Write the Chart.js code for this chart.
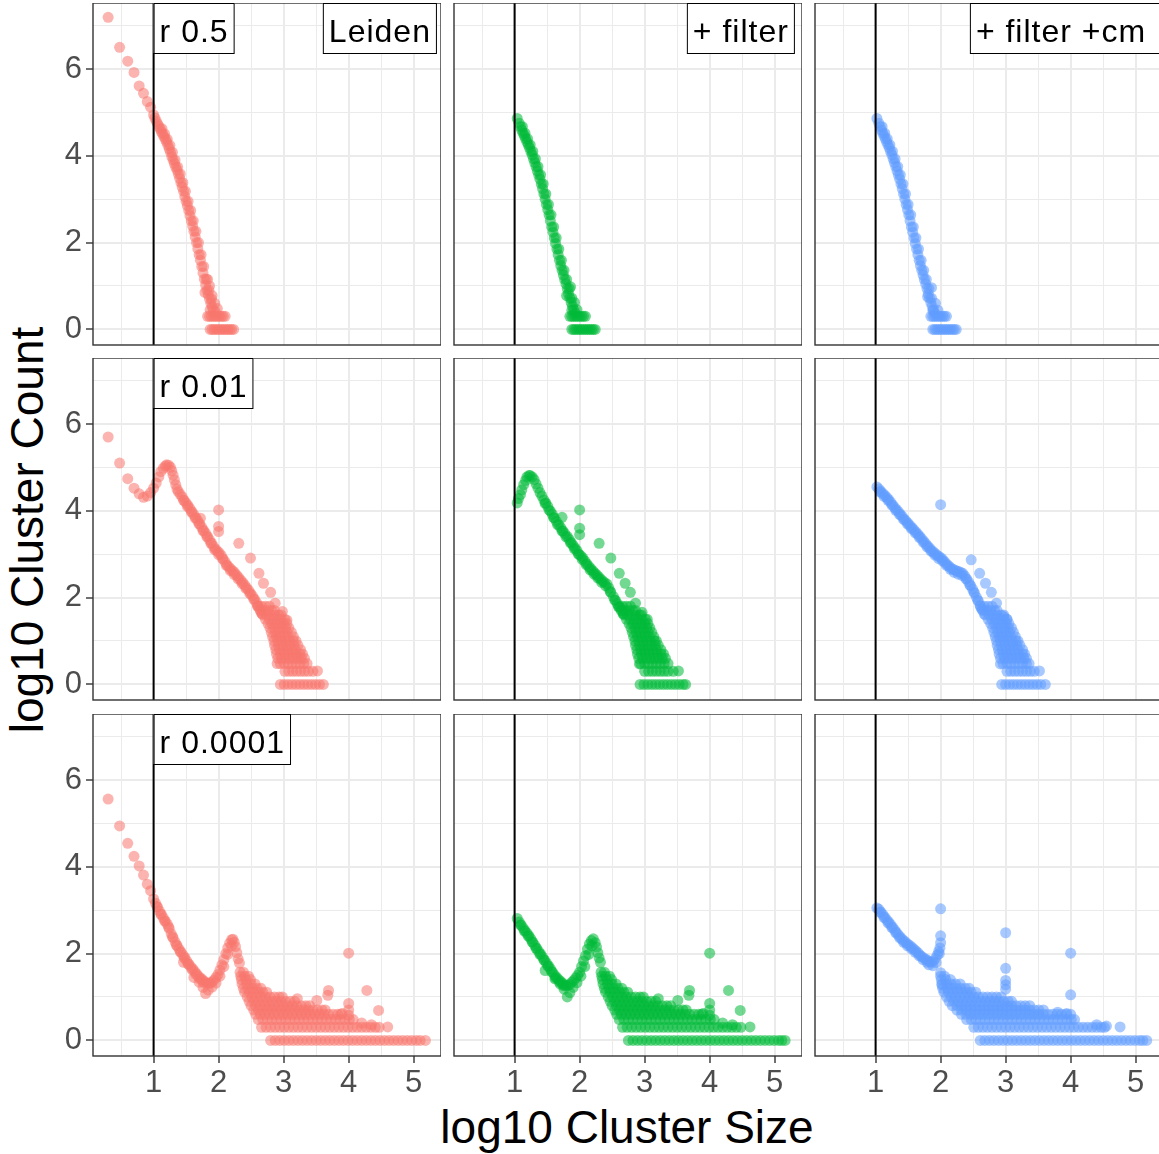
<!DOCTYPE html>
<html>
<head>
<meta charset="utf-8">
<script src="https://cdn.jsdelivr.net/npm/chart.js@4.4.0/dist/chart.umd.min.js"></script>
<style>
  html, body { margin: 0; padding: 0; background: #fff; overflow: hidden; }
  body { width: 1159px; height: 1154px; position: relative; font-family: 'Liberation Sans', Arial, sans-serif; }
  canvas { position: absolute; }
  .axis-title { position: absolute; font-size: 46px; line-height: 46px; color: #000; white-space: nowrap; }
  #xtitle { left: 627px; top: 1104px; transform: translateX(-50%); }
  #ytitle { left: 27px; top: 530px; transform: translate(-50%, -50%) rotate(-90deg); }
</style>
</head>
<body>
<div class="axis-title" id="xtitle">log10 Cluster Size</div>
<div class="axis-title" id="ytitle">log10 Cluster Count</div>
<script>
// facets
const columnNames = ['Leiden', '+ filter', '+ filter +cm'];
const rowNames = ['r 0.5', 'r 0.01', 'r 0.0001'];
const seriesColors = ['#F8766D', '#00BA38', '#619CFF'];

const xTicks = [0.5, 1, 1.5, 2, 2.5, 3, 3.5, 4, 4.5, 5];
const xMajor = [1, 2, 3, 4, 5];
const yTicks = [0, 1, 2, 3, 4, 5, 6, 7];
const yMajor = [0, 2, 4, 6];
const xRange = [0.068, 5.42];
const yRange = [-0.36, 7.52];
const refLineX = 1;

// each panel: [x, y] points along the curve + rows of points [y, [x, ...]]

// ---- r 0.5 ----
const leidenR05Pts = [
  [0.301,7.19],[0.477,6.50],[0.602,6.18],[0.699,5.92],[0.778,5.61],[0.845,5.44],[0.903,5.25],[0.954,5.12],
  [1.00,4.94],[1.02,4.87],[1.04,4.80],[1.06,4.74],[1.08,4.68],[1.10,4.62],[1.12,4.55],[1.14,4.50],[1.16,4.44],
  [1.18,4.38],[1.20,4.32],[1.22,4.24],[1.24,4.16],[1.26,4.08],[1.28,3.98],[1.30,3.90],[1.32,3.82],[1.34,3.74],
  [1.36,3.67],[1.38,3.58],[1.40,3.48],[1.42,3.38],[1.44,3.28],[1.46,3.18],[1.48,3.06],[1.50,2.95],[1.52,2.85],
  [1.54,2.74],[1.56,2.62],[1.58,2.50],[1.60,2.38],[1.62,2.26],[1.64,2.13],[1.66,2.00],[1.68,1.86],[1.70,1.72],
  [1.72,1.59],[1.74,1.45],[1.76,1.30],[1.78,1.16],[1.80,1.02],[1.82,0.90],[1.84,0.80],[1.86,0.70],[1.88,0.60],
  [1.90,0.52],[1.92,0.45],[1.95,0.40],
  [1.13,4.62],[1.17,4.50],[1.21,4.38],[1.25,4.24],[1.29,4.08],[1.33,3.90],[1.37,3.74],[1.41,3.58],[1.45,3.38],
  [1.49,3.18],[1.53,2.95],[1.57,2.74],[1.61,2.50],[1.65,2.26],[1.69,2.00],[1.73,1.72],[1.77,1.45],[1.81,1.16],
  [1.85,0.90],[1.89,0.70],
  [1.79,0.85],[1.86,1.00],[1.83,1.15],[1.90,0.78],[1.94,0.60],[1.87,0.45],[1.98,0.48]
];
const leidenR05Rows = [
  [0.30, [1.83,1.86,1.89,1.92,1.95,1.98,2.01,2.04,2.07,2.10]],
  [0, [1.87,1.90,1.93,1.96,1.99,2.02,2.05,2.08,2.11,2.14,2.17,2.20,2.23]]
];
const filterR05Pts = [
  [1.04,4.86],[1.07,4.75],[1.09,4.67],[1.11,4.59],[1.13,4.52],[1.15,4.46],[1.17,4.39],[1.19,4.32],[1.21,4.25],
  [1.23,4.18],[1.25,4.10],[1.27,4.02],[1.29,3.93],[1.31,3.84],[1.33,3.75],[1.35,3.65],[1.37,3.56],[1.39,3.46],
  [1.41,3.35],[1.43,3.24],[1.45,3.12],[1.47,3.00],[1.49,2.88],[1.51,2.76],[1.53,2.64],[1.55,2.50],[1.57,2.36],
  [1.59,2.24],[1.61,2.11],[1.63,1.98],[1.65,1.85],[1.67,1.72],[1.69,1.59],[1.71,1.47],[1.73,1.36],[1.75,1.25],
  [1.77,1.15],[1.79,1.05],[1.81,0.94],[1.83,0.82],[1.85,0.72],[1.87,0.62],[1.89,0.53],[1.91,0.45],[1.93,0.38],
  [1.12,4.67],[1.16,4.52],[1.20,4.39],[1.24,4.25],[1.28,4.10],[1.32,3.93],[1.36,3.75],[1.40,3.56],[1.44,3.35],
  [1.48,3.12],[1.52,2.88],[1.56,2.64],[1.60,2.36],[1.64,2.11],[1.68,1.85],[1.72,1.59],[1.76,1.36],[1.80,1.15],
  [1.84,0.94],[1.88,0.72],
  [1.80,0.78],[1.86,0.98],[1.92,0.62],[1.96,0.45],[1.88,0.44]
];
const filterR05Rows = [
  [0.30, [1.85,1.88,1.91,1.94,1.97,2.00,2.03,2.06,2.09]],
  [0, [1.88,1.91,1.94,1.97,2.00,2.03,2.06,2.09,2.12,2.15,2.18,2.21,2.24]]
];
const cmR05Pts = [
  [1.02,4.86],[1.05,4.75],[1.07,4.67],[1.09,4.59],[1.11,4.52],[1.13,4.46],[1.15,4.39],[1.17,4.32],[1.19,4.25],
  [1.21,4.18],[1.23,4.10],[1.25,4.02],[1.27,3.93],[1.29,3.84],[1.31,3.75],[1.33,3.65],[1.35,3.56],[1.37,3.46],
  [1.39,3.35],[1.41,3.24],[1.43,3.12],[1.45,3.00],[1.47,2.88],[1.49,2.76],[1.51,2.64],[1.53,2.50],[1.55,2.36],
  [1.57,2.24],[1.59,2.11],[1.61,1.98],[1.63,1.85],[1.65,1.72],[1.67,1.59],[1.69,1.47],[1.71,1.36],[1.73,1.25],
  [1.75,1.15],[1.77,1.05],[1.79,0.94],[1.81,0.82],[1.83,0.72],[1.85,0.62],[1.87,0.53],[1.89,0.45],[1.91,0.38],
  [1.10,4.67],[1.14,4.52],[1.18,4.39],[1.22,4.25],[1.26,4.10],[1.30,3.93],[1.34,3.75],[1.38,3.56],[1.42,3.35],
  [1.46,3.12],[1.50,2.88],[1.54,2.64],[1.58,2.36],[1.62,2.11],[1.66,1.85],[1.70,1.59],[1.74,1.36],[1.78,1.15],
  [1.82,0.94],[1.86,0.72],
  [1.80,0.75],[1.86,0.96],[1.92,0.60],[1.96,0.44],[1.88,0.44]
];
const cmR05Rows = [
  [0.30, [1.85,1.88,1.91,1.94,1.97,2.00,2.03,2.06,2.09]],
  [0, [1.88,1.91,1.94,1.97,2.00,2.03,2.06,2.09,2.12,2.15,2.18,2.21,2.24]]
];

// ---- r 0.01 ----
const leidenR001Pts = [
  [0.301,5.70],[0.477,5.10],[0.602,4.74],[0.699,4.52],[0.778,4.39],[0.845,4.31],[0.903,4.34],[0.954,4.42],
  [1.00,4.52],[1.04,4.64],[1.08,4.78],[1.11,4.90],[1.15,4.98],[1.18,5.03],[1.20,5.06],[1.23,5.05],[1.26,5.00],
  [1.28,4.92],[1.30,4.82],[1.32,4.71],[1.34,4.60],[1.36,4.50],[1.38,4.44],[1.41,4.38],[1.44,4.32],[1.47,4.24],
  [1.50,4.18],[1.53,4.12],[1.56,4.05],[1.59,3.98],[1.62,3.91],[1.65,3.84],[1.68,3.77],[1.71,3.70],[1.74,3.62],
  [1.77,3.55],[1.80,3.48],[1.83,3.41],[1.86,3.33],[1.89,3.26],[1.92,3.18],[1.95,3.12],[1.98,3.07],[2.01,3.03],
  [2.04,2.97],[2.07,2.89],[2.10,2.82],[2.13,2.75],[2.16,2.70],[2.19,2.65],[2.22,2.61],[2.25,2.57],[2.28,2.51],
  [2.31,2.46],[2.34,2.40],[2.37,2.35],[2.40,2.29],[2.43,2.23],[2.46,2.17],[2.49,2.10],[2.52,2.04],[2.55,1.97],
  [2.58,1.89],[2.61,1.81],[2.64,1.72],[2.67,1.63],
  [1.46,4.24],[1.52,4.10],[1.58,3.97],[1.64,3.83],[1.70,3.69],[1.76,3.54],[1.82,3.40],[1.88,3.25],[1.94,3.10],
  [2.00,2.99],[2.06,2.89],[2.12,2.74],[2.18,2.62],[2.24,2.53],[2.30,2.43],[2.36,2.32],[2.42,2.21],[2.48,2.09],
  [2.54,1.96],[2.60,1.81],[2.66,1.64],
  [1.72,3.83],[2.00,4.02],[2.00,3.64],[2.00,3.52],[2.31,3.25],[2.49,2.91],[2.62,2.56],[2.69,2.33],[2.80,2.12],
  [2.87,1.87],[2.98,1.68],[3.05,1.48],[2.90,0.48],[3.52,0.31]
];
const leidenR001Rows = [
  [1.80, [2.60,2.66,2.72,2.78]],
  [1.70, [2.64,2.70,2.76,2.82,2.86]],
  [1.60, [2.68,2.74,2.80,2.86,2.92,2.96]],
  [1.50, [2.72,2.78,2.84,2.90,2.96,3.02]],
  [1.40, [2.76,2.82,2.88,2.94,3.00,3.05]],
  [1.30, [2.79,2.85,2.91,2.97,3.03,3.08]],
  [1.20, [2.81,2.87,2.93,2.99,3.05,3.12]],
  [1.10, [2.83,2.89,2.95,3.01,3.07,3.15]],
  [1.00, [2.85,2.91,2.97,3.03,3.09,3.15,3.19]],
  [0.90, [2.86,2.92,2.98,3.04,3.10,3.16,3.22]],
  [0.80, [2.88,2.94,3.00,3.06,3.12,3.18,3.26]],
  [0.70, [2.89,2.95,3.01,3.07,3.13,3.19,3.25,3.29]],
  [0.60, [2.91,2.97,3.03,3.09,3.15,3.21,3.27,3.32]],
  [0.48, [2.95,3.01,3.07,3.13,3.19,3.25,3.31,3.36]],
  [0.30, [3.02,3.08,3.14,3.20,3.26,3.32,3.38,3.45]],
  [0, [2.95,3.01,3.07,3.13,3.19,3.25,3.31,3.37,3.43,3.49,3.55,3.61]]
];
const filterR001Pts = [
  [1.04,4.18],[1.06,4.28],[1.09,4.37],[1.11,4.48],[1.14,4.60],[1.17,4.70],[1.19,4.78],[1.22,4.81],[1.24,4.81],
  [1.27,4.78],[1.30,4.72],[1.33,4.62],[1.36,4.52],[1.39,4.42],[1.42,4.34],[1.45,4.25],[1.48,4.18],[1.51,4.10],
  [1.55,3.99],[1.58,3.92],[1.61,3.84],[1.64,3.76],[1.68,3.68],[1.71,3.61],[1.74,3.54],[1.77,3.48],[1.81,3.41],
  [1.84,3.34],[1.87,3.27],[1.90,3.20],[1.93,3.14],[1.96,3.08],[1.99,3.00],[2.02,2.96],[2.05,2.91],[2.08,2.84],
  [2.11,2.78],[2.14,2.72],[2.17,2.67],[2.20,2.62],[2.23,2.57],[2.26,2.53],[2.29,2.48],[2.32,2.43],[2.35,2.39],
  [2.38,2.35],[2.42,2.31],[2.45,2.22],[2.48,2.12],[2.52,2.02],[2.55,1.94],[2.58,1.86],[2.62,1.78],[2.65,1.71],
  [2.68,1.63],
  [1.47,4.17],[1.53,4.02],[1.60,3.84],[1.66,3.68],[1.73,3.53],[1.79,3.40],[1.86,3.26],[1.92,3.12],[1.98,3.00],
  [2.04,2.88],[2.10,2.76],[2.16,2.64],[2.22,2.54],[2.28,2.45],[2.34,2.35],[2.40,2.27],[2.47,2.14],[2.54,1.94],
  [2.60,1.78],[2.67,1.63],
  [1.73,3.85],[2.00,4.02],[2.00,3.60],[2.00,3.45],[2.30,3.25],[2.48,2.91],[2.61,2.56],[2.70,2.33],[2.78,2.12],
  [2.86,1.87],[2.96,1.66],[3.04,1.50],[2.92,0.47],[3.52,0.31]
];
const filterR001Rows = [
  [1.80, [2.60,2.66,2.72,2.78]],
  [1.70, [2.64,2.70,2.76,2.82,2.86]],
  [1.60, [2.68,2.74,2.80,2.86,2.92,2.95]],
  [1.50, [2.72,2.78,2.84,2.90,2.96,3.01]],
  [1.40, [2.76,2.82,2.88,2.94,3.00,3.05]],
  [1.30, [2.79,2.85,2.91,2.97,3.03,3.08]],
  [1.20, [2.81,2.87,2.93,2.99,3.05,3.11]],
  [1.10, [2.83,2.89,2.95,3.01,3.07,3.14]],
  [1.00, [2.85,2.91,2.97,3.03,3.09,3.15,3.18]],
  [0.90, [2.86,2.92,2.98,3.04,3.10,3.16,3.21]],
  [0.80, [2.88,2.94,3.00,3.06,3.12,3.18,3.25]],
  [0.70, [2.89,2.95,3.01,3.07,3.13,3.19,3.25,3.29]],
  [0.60, [2.91,2.97,3.03,3.09,3.15,3.21,3.27,3.32]],
  [0.48, [2.94,3.00,3.06,3.12,3.18,3.24,3.30,3.36]],
  [0.30, [3.00,3.06,3.12,3.18,3.24,3.30,3.36,3.44]],
  [0, [2.93,2.99,3.05,3.11,3.17,3.23,3.29,3.35,3.41,3.47,3.53,3.59,3.63]]
];
const cmR001Pts = [
  [1.02,4.55],[1.05,4.50],[1.08,4.45],[1.11,4.40],[1.14,4.36],[1.17,4.31],[1.20,4.26],[1.23,4.20],[1.26,4.14],
  [1.29,4.08],[1.32,4.03],[1.35,3.98],[1.38,3.92],[1.41,3.87],[1.44,3.81],[1.47,3.76],[1.50,3.71],[1.53,3.66],
  [1.56,3.61],[1.59,3.56],[1.62,3.51],[1.65,3.46],[1.68,3.41],[1.71,3.35],[1.74,3.30],[1.77,3.24],[1.80,3.19],
  [1.83,3.14],[1.86,3.09],[1.89,3.05],[1.92,3.01],[1.95,2.97],[1.98,2.94],[2.01,2.91],[2.04,2.86],[2.07,2.81],
  [2.10,2.76],[2.13,2.72],[2.16,2.68],[2.19,2.65],[2.22,2.63],[2.25,2.61],[2.28,2.60],[2.31,2.58],[2.34,2.56],
  [2.37,2.50],[2.40,2.43],[2.43,2.36],[2.46,2.28],[2.49,2.20],[2.52,2.10],[2.55,2.01],[2.58,1.92],[2.61,1.82],
  [2.64,1.72],[2.67,1.62],
  [1.07,4.43],[1.13,4.33],[1.19,4.24],[1.25,4.13],[1.31,4.01],[1.37,3.91],[1.43,3.80],[1.49,3.69],[1.55,3.59],
  [1.61,3.49],[1.67,3.39],[1.73,3.28],[1.79,3.17],[1.85,3.07],[1.91,2.98],[1.97,2.90],[2.03,2.84],[2.09,2.74],
  [2.15,2.65],[2.21,2.58],[2.27,2.54],[2.33,2.51],[2.39,2.43],[2.45,2.29],[2.51,2.13],[2.57,1.94],[2.63,1.75],
  [2.00,4.14],[2.47,2.87],[2.60,2.56],[2.69,2.33],[2.78,2.12],[2.86,1.87],[2.97,1.56],[3.02,1.50],[2.92,0.47],[3.52,0.31]
];
const cmR001Rows = [
  [1.80, [2.61,2.67,2.73,2.79]],
  [1.70, [2.65,2.71,2.77,2.83,2.87]],
  [1.60, [2.69,2.75,2.81,2.87,2.93,2.97]],
  [1.50, [2.73,2.79,2.85,2.91,2.97,3.02]],
  [1.40, [2.77,2.83,2.89,2.95,3.01,3.05]],
  [1.30, [2.80,2.86,2.92,2.98,3.04,3.09]],
  [1.20, [2.82,2.88,2.94,3.00,3.06,3.12]],
  [1.10, [2.84,2.90,2.96,3.02,3.08,3.15]],
  [1.00, [2.86,2.92,2.98,3.04,3.10,3.16,3.19]],
  [0.90, [2.87,2.93,2.99,3.05,3.11,3.17,3.22]],
  [0.80, [2.89,2.95,3.01,3.07,3.13,3.19,3.26]],
  [0.70, [2.90,2.96,3.02,3.08,3.14,3.20,3.26,3.29]],
  [0.60, [2.92,2.98,3.04,3.10,3.16,3.22,3.28,3.32]],
  [0.48, [2.96,3.02,3.08,3.14,3.20,3.26,3.32,3.36]],
  [0.30, [3.02,3.08,3.14,3.20,3.26,3.32,3.38,3.44]],
  [0, [2.94,3.00,3.06,3.12,3.18,3.24,3.30,3.36,3.42,3.48,3.54,3.61]]
];

// ---- r 0.0001 ----
const leidenR00001Pts = [
  [0.301,5.56],[0.477,4.94],[0.602,4.54],[0.699,4.24],[0.778,4.02],[0.845,3.81],[0.903,3.60],[0.954,3.45],
  [1.00,3.26],[1.03,3.16],[1.06,3.07],[1.09,2.98],[1.12,2.90],[1.15,2.82],[1.18,2.75],[1.21,2.68],[1.24,2.58],
  [1.27,2.46],[1.30,2.36],[1.33,2.27],[1.36,2.18],[1.39,2.11],[1.42,2.04],[1.45,1.97],[1.48,1.91],[1.51,1.83],
  [1.54,1.76],[1.57,1.70],[1.60,1.65],[1.63,1.59],[1.66,1.54],[1.69,1.48],[1.72,1.44],[1.75,1.40],[1.78,1.36],
  [1.81,1.33],[1.84,1.31],[1.87,1.32],[1.90,1.35],[1.93,1.39],[1.96,1.45],[1.99,1.52],[2.02,1.62],[2.05,1.74],
  [2.08,1.86],[2.11,2.00],[2.14,2.13],[2.17,2.24],[2.20,2.32],[2.22,2.33],[2.24,2.26],[2.26,2.16],[2.28,2.02],
  [2.30,1.88],[2.32,1.78],
  [1.05,3.09],[1.11,2.91],[1.17,2.75],[1.23,2.61],[1.29,2.39],[1.35,2.20],[1.41,2.04],[1.47,1.90],[1.53,1.76],
  [1.59,1.63],[1.65,1.52],[1.71,1.41],[1.77,1.33],
  [1.46,1.80],
  [1.62,1.45],[1.70,1.34],[1.76,1.22],[1.80,1.08],[1.84,1.16],[1.90,1.23],[1.96,1.32],[2.02,1.48],[2.08,1.70],
  [2.14,1.98],[2.20,2.18],
  [4.00,2.01],[4.28,1.15],[3.69,1.15],[3.68,1.04],[4.46,0.69],[4.60,0.31],[3.21,0.96],[3.51,0.92],[4.00,0.85],
  [4.00,0.70],[4.00,0.58],[3.90,0.62],[4.20,0.40],[4.35,0.36]
];
const leidenR00001Rows = [
  [1.57, [2.33,2.38]],
  [1.48, [2.34,2.40,2.46]],
  [1.40, [2.35,2.42,2.49]],
  [1.30, [2.36,2.43,2.50,2.56]],
  [1.20, [2.38,2.45,2.52,2.59,2.65]],
  [1.11, [2.40,2.47,2.54,2.61,2.68,2.74]],
  [1.00, [2.44,2.51,2.58,2.65,2.72,2.79,2.86,2.93,2.98]],
  [0.90, [2.47,2.54,2.61,2.68,2.75,2.82,2.89,2.96,3.03,3.10,3.17]],
  [0.80, [2.50,2.57,2.64,2.71,2.78,2.85,2.92,2.99,3.06,3.13,3.20,3.27,3.34,3.40]],
  [0.70, [2.54,2.61,2.68,2.75,2.82,2.89,2.96,3.03,3.10,3.17,3.24,3.31,3.38,3.45,3.52,3.59,3.64]],
  [0.60, [2.57,2.64,2.71,2.78,2.85,2.92,2.99,3.06,3.13,3.20,3.27,3.34,3.41,3.48,3.55,3.62,3.69,3.76,3.83,3.88]],
  [0.48, [2.61,2.68,2.75,2.82,2.89,2.96,3.03,3.10,3.17,3.24,3.31,3.38,3.45,3.52,3.59,3.66,3.73,3.80,3.87,3.94,4.01,4.07]],
  [0.30, [2.66,2.73,2.80,2.87,2.94,3.01,3.08,3.15,3.22,3.29,3.36,3.43,3.50,3.57,3.64,3.71,3.78,3.85,3.92,3.99,4.06,4.13,4.20,4.27,4.34,4.41,4.47]],
  [0, [2.80,2.87,2.94,3.01,3.08,3.15,3.22,3.29,3.36,3.43,3.50,3.57,3.64,3.71,3.78,3.85,3.92,3.99,4.06,4.13,4.20,4.27,4.34,4.41,4.48,4.55,4.62,4.69,4.76,4.83,4.90,4.97,5.04,5.10,5.18]]
];
const filterR00001Pts = [
  [1.04,2.81],[1.07,2.73],[1.10,2.66],[1.13,2.59],[1.16,2.53],[1.19,2.47],[1.22,2.41],[1.25,2.34],[1.28,2.26],
  [1.31,2.19],[1.34,2.12],[1.37,2.05],[1.40,1.99],[1.43,1.92],[1.46,1.85],[1.49,1.78],[1.52,1.72],[1.55,1.65],
  [1.58,1.58],[1.61,1.51],[1.64,1.46],[1.67,1.41],[1.70,1.37],[1.73,1.33],[1.76,1.29],[1.79,1.26],[1.82,1.27],
  [1.85,1.29],[1.88,1.34],[1.91,1.38],[1.94,1.44],[1.97,1.50],[2.00,1.57],[2.03,1.70],[2.06,1.83],[2.09,1.95],
  [2.12,2.10],[2.15,2.22],[2.18,2.30],[2.21,2.34],[2.24,2.25],[2.26,2.15],[2.28,2.02],[2.30,1.90],[2.32,1.80],
  [1.09,2.66],[1.15,2.52],[1.21,2.40],[1.27,2.27],[1.33,2.12],[1.39,1.98],[1.45,1.85],[1.51,1.71],[1.57,1.58],
  [1.63,1.44],[1.69,1.34],[1.75,1.26],
  [1.47,1.61],
  [1.62,1.42],[1.70,1.30],[1.76,1.18],[1.81,1.00],[1.85,1.10],[1.90,1.22],[1.96,1.33],[2.02,1.48],[2.08,1.70],
  [2.14,1.98],[2.19,2.18],
  [4.00,2.01],[4.29,1.15],[3.69,1.15],[3.68,1.04],[4.47,0.69],[4.62,0.31],[3.21,0.96],[3.51,0.92],[4.00,0.85],
  [4.00,0.70],[4.00,0.58],[3.90,0.62],[4.20,0.40],[4.35,0.36]
];
const filterR00001Rows = [
  [1.57, [2.33,2.38]],
  [1.48, [2.34,2.40,2.46]],
  [1.40, [2.35,2.42,2.49]],
  [1.30, [2.36,2.43,2.50,2.56]],
  [1.20, [2.38,2.45,2.52,2.59,2.65]],
  [1.11, [2.40,2.47,2.54,2.61,2.68,2.74]],
  [1.00, [2.44,2.51,2.58,2.65,2.72,2.79,2.86,2.93,2.98]],
  [0.90, [2.47,2.54,2.61,2.68,2.75,2.82,2.89,2.96,3.03,3.10,3.17]],
  [0.80, [2.50,2.57,2.64,2.71,2.78,2.85,2.92,2.99,3.06,3.13,3.20,3.27,3.34,3.40]],
  [0.70, [2.54,2.61,2.68,2.75,2.82,2.89,2.96,3.03,3.10,3.17,3.24,3.31,3.38,3.45,3.52,3.59,3.64]],
  [0.60, [2.57,2.64,2.71,2.78,2.85,2.92,2.99,3.06,3.13,3.20,3.27,3.34,3.41,3.48,3.55,3.62,3.69,3.76,3.83,3.88]],
  [0.48, [2.61,2.68,2.75,2.82,2.89,2.96,3.03,3.10,3.17,3.24,3.31,3.38,3.45,3.52,3.59,3.66,3.73,3.80,3.87,3.94,4.01,4.07]],
  [0.30, [2.66,2.73,2.80,2.87,2.94,3.01,3.08,3.15,3.22,3.29,3.36,3.43,3.50,3.57,3.64,3.71,3.78,3.85,3.92,3.99,4.06,4.13,4.20,4.27,4.34,4.41,4.48]],
  [0, [2.75,2.82,2.89,2.96,3.03,3.10,3.17,3.24,3.31,3.38,3.45,3.52,3.59,3.66,3.73,3.80,3.87,3.94,4.01,4.08,4.15,4.22,4.29,4.36,4.43,4.50,4.57,4.64,4.71,4.78,4.85,4.92,4.99,5.06,5.11,5.16]]
];
const cmR00001Pts = [
  [1.02,3.05],[1.05,3.02],[1.08,2.96],[1.11,2.90],[1.14,2.84],[1.17,2.78],[1.20,2.73],[1.23,2.67],[1.26,2.61],
  [1.29,2.55],[1.32,2.49],[1.35,2.43],[1.38,2.38],[1.41,2.33],[1.44,2.29],[1.47,2.25],[1.50,2.21],[1.53,2.18],
  [1.56,2.14],[1.59,2.10],[1.62,2.06],[1.65,2.02],[1.68,1.97],[1.71,1.93],[1.74,1.90],[1.77,1.87],[1.80,1.84],
  [1.83,1.81],[1.86,1.80],[1.89,1.83],[1.92,1.89],[1.95,1.97],[1.97,2.05],[1.99,2.13],
  [1.07,2.95],[1.13,2.83],[1.19,2.71],[1.25,2.60],[1.31,2.48],[1.37,2.36],[1.43,2.26],[1.49,2.18],[1.55,2.11],
  [1.61,2.03],[1.67,1.95],[1.73,1.86],[1.79,1.80],
  [1.82,1.74],[1.88,1.72],[1.93,1.79],[1.98,2.00],
  [2.00,2.25],[2.00,2.41],[2.00,3.03],[2.00,1.56],[2.02,1.28],
  [3.00,2.48],[3.00,1.66],[3.00,1.38],[3.00,1.28],[3.00,1.18],[4.00,2.01],[4.00,1.05],[4.76,0.31],[3.94,0.62],
  [3.80,0.65],[4.00,0.60],[4.40,0.36],[4.55,0.33]
];
const cmR00001Rows = [
  [1.48, [2.00,2.06]],
  [1.40, [2.01,2.08,2.15]],
  [1.30, [2.02,2.09,2.16,2.23,2.30]],
  [1.20, [2.03,2.10,2.17,2.24,2.31,2.38,2.44]],
  [1.11, [2.05,2.12,2.19,2.26,2.33,2.40,2.47,2.54]],
  [1.00, [2.09,2.16,2.23,2.30,2.37,2.44,2.51,2.58,2.65,2.72,2.79,2.86,2.93]],
  [0.90, [2.13,2.20,2.27,2.34,2.41,2.48,2.55,2.62,2.69,2.76,2.83,2.90,2.97,3.04,3.09]],
  [0.80, [2.18,2.25,2.32,2.39,2.46,2.53,2.60,2.67,2.74,2.81,2.88,2.95,3.02,3.09,3.16,3.23,3.30,3.37]],
  [0.70, [2.25,2.32,2.39,2.46,2.53,2.60,2.67,2.74,2.81,2.88,2.95,3.02,3.09,3.16,3.23,3.30,3.37,3.44,3.51,3.58]],
  [0.60, [2.32,2.39,2.46,2.53,2.60,2.67,2.74,2.81,2.88,2.95,3.02,3.09,3.16,3.23,3.30,3.37,3.44,3.51,3.58,3.65,3.72,3.79,3.86,3.93]],
  [0.48, [2.40,2.47,2.54,2.61,2.68,2.75,2.82,2.89,2.96,3.03,3.10,3.17,3.24,3.31,3.38,3.45,3.52,3.59,3.66,3.73,3.80,3.87,3.94,4.01,4.06]],
  [0.30, [2.51,2.58,2.65,2.72,2.79,2.86,2.93,3.00,3.07,3.14,3.21,3.28,3.35,3.42,3.49,3.56,3.63,3.70,3.77,3.84,3.91,3.98,4.05,4.12,4.19,4.26,4.33,4.40,4.47,4.52]],
  [0, [2.61,2.68,2.75,2.82,2.89,2.96,3.03,3.10,3.17,3.24,3.31,3.38,3.45,3.52,3.59,3.66,3.73,3.80,3.87,3.94,4.01,4.08,4.15,4.22,4.29,4.36,4.43,4.50,4.57,4.64,4.71,4.78,4.85,4.92,4.99,5.06,5.11,5.17]]
];

const panelPts = [
  [leidenR05Pts, filterR05Pts, cmR05Pts],
  [leidenR001Pts, filterR001Pts, cmR001Pts],
  [leidenR00001Pts, filterR00001Pts, cmR00001Pts]
];
const panelRows = [
  [leidenR05Rows, filterR05Rows, cmR05Rows],
  [leidenR001Rows, filterR001Rows, cmR001Rows],
  [leidenR00001Rows, filterR00001Rows, cmR00001Rows]
];

// facet strip labels: x anchor in data units
const rowLabelX = 1;
const colLabelX = [4.48, 4.48, 2.45];
const colLabelAlign = ['center', 'center', 'fill'];

// page layout
const axisW = 93, axisH = 55;
const colLeft = [93, 454, 815];
const rowTop = [3, 358, 714];
const panelW = 348, panelH = 342;

const fontFamily = "'Liberation Sans', Arial, sans-serif";
Chart.defaults.font.family = fontFamily;

function fade(hex, a) {
  const n = parseInt(hex.slice(1), 16);
  return 'rgba(' + (n >> 16) + ',' + ((n >> 8) & 255) + ',' + (n & 255) + ',' + a + ')';
}

function toPoints(pts, rows) {
  const out = pts.map(p => ({ x: p[0], y: p[1] }));
  rows.forEach(r => r[1].forEach(x => out.push({ x: x, y: r[0] })));
  return out;
}

function noPad(s) {
  s.paddingTop = 0; s.paddingBottom = 0; s.paddingLeft = 0; s.paddingRight = 0;
}

const panelDeco = {
  id: 'panelDeco',
  afterDatasetsDraw(chart) {
    const ctx = chart.ctx, a = chart.chartArea;
    const px = chart.scales.x.getPixelForValue(refLineX);
    ctx.save();
    ctx.strokeStyle = '#000';
    ctx.lineWidth = 2;
    ctx.beginPath();
    ctx.moveTo(px, a.top);
    ctx.lineTo(px, a.bottom);
    ctx.stroke();
    ctx.restore();
  },
  afterDraw(chart, args, opts) {
    const ctx = chart.ctx, a = chart.chartArea, x = chart.scales.x;
    ctx.save();
    ctx.strokeStyle = '#333333';
    ctx.lineWidth = 1.4;
    ctx.strokeRect(a.left, a.top, a.right - a.left, a.bottom - a.top);

    ctx.font = '32px ' + fontFamily;
    ctx.letterSpacing = '1px';
    ctx.textBaseline = 'alphabetic';
    const pad = 6;
    (opts.labels || []).forEach(lab => {
      const w = ctx.measureText(lab.text).width + pad * 2;
      const xp = x.getPixelForValue(lab.x);
      let left = xp, right = xp + w;
      if (lab.align === 'center') { left = xp - w / 2; right = xp + w / 2; }
      if (lab.align === 'fill') { right = a.right + 6; }
      ctx.fillStyle = '#fff';
      ctx.fillRect(left, a.top, right - left, 50);
      ctx.strokeStyle = '#000';
      ctx.lineWidth = 1;
      ctx.strokeRect(left + 0.5, a.top + 0.5, right - left - 1, 50);
      ctx.fillStyle = '#000';
      ctx.fillText(lab.text, left + pad, a.top + 39);
    });
    ctx.restore();
  }
};

function makePanel(row, col) {
  const canvas = document.createElement('canvas');
  canvas.width = axisW + panelW;
  canvas.height = panelH + axisH;
  canvas.style.left = (colLeft[col] - axisW) + 'px';
  canvas.style.top = rowTop[row] + 'px';
  document.body.appendChild(canvas);

  const showX = row === 2;
  const showY = col === 0;
  const labels = [];
  if (col === 0) labels.push({ text: rowNames[row], x: rowLabelX, align: 'left' });
  if (row === 0) labels.push({ text: columnNames[col], x: colLabelX[col], align: colLabelAlign[col] });

  return new Chart(canvas.getContext('2d'), {
    type: 'scatter',
    data: {
      datasets: [{
        data: toPoints(panelPts[row][col], panelRows[row][col]),
        backgroundColor: fade(seriesColors[col], 0.55),
        borderWidth: 0,
        pointRadius: 5.5,
        pointHoverRadius: 5.5
      }]
    },
    options: {
      responsive: false,
      animation: false,
      devicePixelRatio: 1,
      events: [],
      layout: { padding: 0, autoPadding: false },
      plugins: {
        legend: { display: false },
        tooltip: { enabled: false },
        panelDeco: { labels: labels }
      },
      scales: {
        x: {
          type: 'linear',
          min: xRange[0],
          max: xRange[1],
          afterBuildTicks: s => { s.ticks = xTicks.map(v => ({ value: v })); },
          afterFit: s => { s.height = axisH; noPad(s); },
          border: { display: false },
          grid: {
            color: '#EBEBEB',
            lineWidth: c => xMajor.includes(c.tick.value) ? 2 : 1,
            drawTicks: showX,
            tickLength: 7,
            tickWidth: 1.4,
            tickColor: c => xMajor.includes(c.tick.value) ? '#333333' : 'rgba(0,0,0,0)'
          },
          ticks: {
            display: showX,
            autoSkip: false,
            maxRotation: 0,
            padding: 2,
            color: '#4D4D4D',
            font: { size: 31 },
            callback: v => xMajor.includes(v) ? String(v) : ''
          }
        },
        y: {
          type: 'linear',
          min: yRange[0],
          max: yRange[1],
          afterBuildTicks: s => { s.ticks = yTicks.map(v => ({ value: v })); },
          afterFit: s => { s.width = axisW; noPad(s); },
          border: { display: false },
          grid: {
            color: '#EBEBEB',
            lineWidth: c => yMajor.includes(c.tick.value) ? 2 : 1,
            drawTicks: showY,
            tickLength: 7,
            tickWidth: 1.4,
            tickColor: c => yMajor.includes(c.tick.value) ? '#333333' : 'rgba(0,0,0,0)'
          },
          ticks: {
            display: showY,
            autoSkip: false,
            padding: 4,
            color: '#4D4D4D',
            font: { size: 31 },
            callback: v => yMajor.includes(v) ? String(v) : ''
          }
        }
      }
    },
    plugins: [panelDeco]
  });
}

for (let r = 0; r < 3; r++) {
  for (let c = 0; c < 3; c++) {
    makePanel(r, c);
  }
}
</script>
</body>
</html>
